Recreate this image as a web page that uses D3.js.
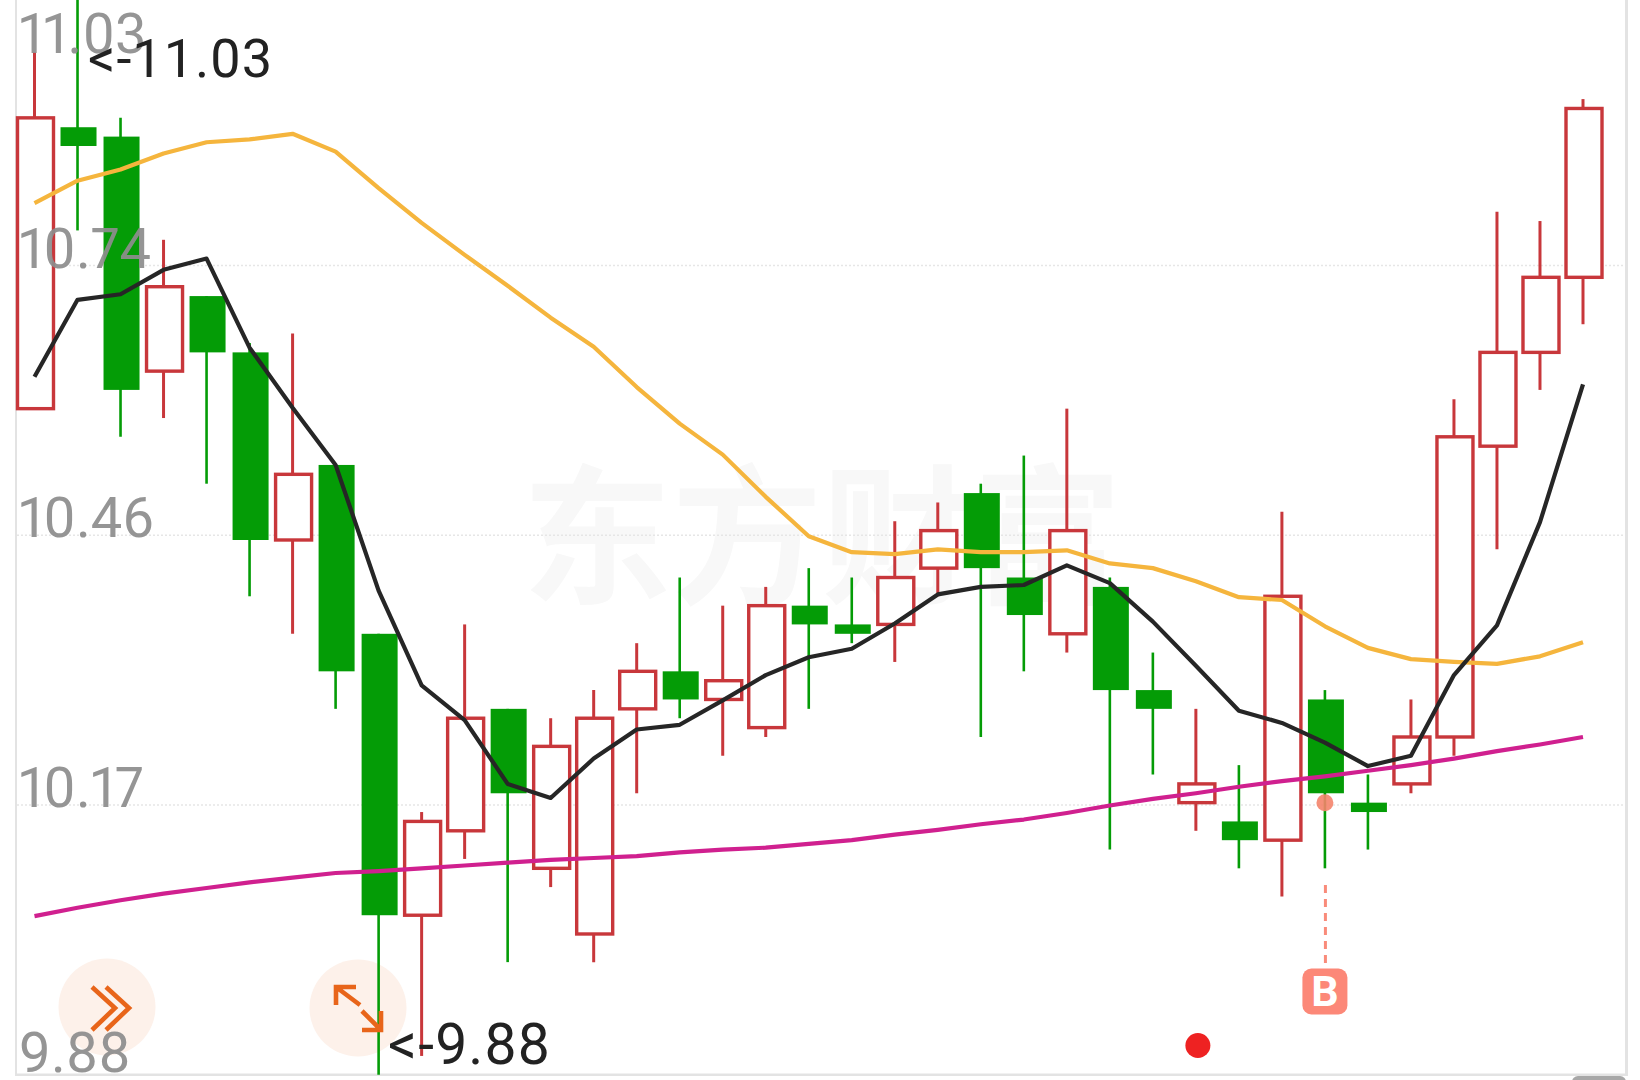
<!DOCTYPE html>
<html><head><meta charset="utf-8">
<script src="https://cdn.jsdelivr.net/npm/d3@7/dist/d3.min.js"></script>
<style>html,body{margin:0;padding:0;background:#fff;overflow:hidden}svg{display:block}</style>
</head><body><svg id="c" width="1640" height="1080"></svg>
<script>
const openP=[10.59,10.89,10.88,10.63,10.71,10.65,10.45,10.53,10.35,10.05,10.14,10.27,10.10,10.03,10.27,10.31,10.28,10.25,10.38,10.36,10.36,10.42,10.50,10.41,10.35,10.40,10.29,10.17,10.15,10.13,10.28,10.17,10.19,10.24,10.55,10.65,10.73];
const closeP=[10.90,10.87,10.61,10.72,10.65,10.45,10.52,10.31,10.05,10.15,10.26,10.18,10.23,10.26,10.31,10.28,10.30,10.38,10.36,10.35,10.41,10.46,10.42,10.37,10.46,10.29,10.27,10.19,10.13,10.39,10.18,10.16,10.24,10.56,10.65,10.73,10.91];
const highP=[10.97,11.03,10.90,10.77,10.71,10.66,10.67,10.53,10.35,10.16,10.36,10.27,10.26,10.29,10.34,10.41,10.38,10.40,10.42,10.41,10.47,10.49,10.51,10.54,10.59,10.41,10.33,10.27,10.21,10.48,10.29,10.20,10.28,10.60,10.80,10.79,10.92];
const lowP=[10.59,10.78,10.56,10.58,10.51,10.39,10.35,10.27,9.88,9.90,10.11,10.00,10.08,10.00,10.18,10.26,10.22,10.24,10.27,10.34,10.32,10.39,10.24,10.31,10.33,10.12,10.20,10.14,10.10,10.07,10.10,10.12,10.18,10.22,10.44,10.61,10.68];
const maBlack=[10.624,10.706,10.712,10.738,10.750,10.655,10.591,10.530,10.396,10.295,10.258,10.190,10.175,10.217,10.248,10.253,10.279,10.306,10.325,10.334,10.361,10.392,10.400,10.402,10.423,10.404,10.363,10.316,10.268,10.255,10.234,10.209,10.220,10.306,10.359,10.469,10.616];
const maOrange=[10.809,10.833,10.845,10.862,10.874,10.877,10.883,10.864,10.825,10.788,10.754,10.721,10.687,10.656,10.613,10.574,10.541,10.496,10.454,10.437,10.435,10.440,10.437,10.437,10.439,10.425,10.420,10.406,10.389,10.386,10.358,10.335,10.323,10.320,10.318,10.326,10.341];
const maMagenta=[10.049,10.058,10.066,10.073,10.079,10.085,10.090,10.095,10.097,10.100,10.103,10.106,10.109,10.111,10.113,10.117,10.120,10.122,10.126,10.130,10.136,10.141,10.147,10.152,10.159,10.167,10.174,10.180,10.187,10.193,10.198,10.204,10.210,10.217,10.225,10.232,10.240];
const tickValues=[11.03,10.7425,10.455,10.1675,9.88];
const tickLabels=["11.03","10.74","10.46","10.17","9.88"];
const maxLabel="<-11.03", minLabel="<-9.88", watermark="东方财富", buyLabel="B";
const buyIndex=30, redDotIndex=27;

const svg=d3.select("#c");
const x=d3.scaleLinear().domain([0,36]).range([34.5,1583]);
const y=d3.scaleLinear().domain([9.88,11.03]).range([1074.7,-4.1]);
const RED="#c8373b",GREEN="#049c06",FONT="Roboto, sans-serif";
const idx=d3.range(openP.length);

svg.append("rect").attr("width",1640).attr("height",1080).attr("fill","#fff");
svg.append("text").text(watermark).attr("x",822).attr("y",592).attr("text-anchor","middle")
  .attr("font-family","'Noto Sans CJK SC'").attr("font-weight",700).attr("font-size",150).attr("fill","#f8f8f8");
svg.append("g").selectAll("line").data(tickValues.slice(1,4)).join("line")
  .attr("x1",17).attr("x2",1625).attr("y1",d=>y(d)).attr("y2",d=>y(d))
  .attr("stroke","#e6e6e6").attr("stroke-width",1.5).attr("stroke-dasharray","2 2");
const frame=svg.append("g").attr("fill","#e3e3e3");
frame.append("rect").attr("x",15).attr("y",0).attr("width",2).attr("height",1076);
frame.append("rect").attr("x",1625).attr("y",0).attr("width",3).attr("height",1076);
frame.append("rect").attr("x",15).attr("y",1073.5).attr("width",1613).attr("height",2.5);
svg.append("rect").attr("x",1572).attr("y",1076).attr("width",54).attr("height",12).attr("rx",6).attr("fill","#a8a8a8");

svg.append("circle").attr("cx",107).attr("cy",1007).attr("r",48.5).attr("fill","#fdf1ea");
svg.append("circle").attr("cx",358).attr("cy",1008).attr("r",48.5).attr("fill","#fdf1ea");

const gc=svg.append("g");
const up=i=>closeP[i]>=openP[i];
gc.selectAll("line.h").data(idx).join("line").attr("class","h")
  .attr("x1",x).attr("x2",x).attr("y1",i=>y(highP[i])).attr("y2",i=>y(lowP[i]))
  .attr("stroke",i=>up(i)?RED:GREEN).attr("stroke-width",i=>up(i)?3:2.6);
gc.selectAll("rect.b").data(idx).join("rect").attr("class","b")
  .attr("x",i=>x(i)+1-18)
  .attr("width",36)
  .attr("y",i=>y(Math.max(openP[i],closeP[i])))
  .attr("height",i=>Math.abs(y(openP[i])-y(closeP[i])))
  .attr("fill",i=>up(i)?"#fff":GREEN)
  .attr("stroke",i=>up(i)?RED:"none").attr("stroke-width",3.4);

const line=arr=>d3.line().x((d,i)=>x(i)).y(d=>y(d))(arr);
[[maMagenta,"#d0208f"],[maOrange,"#f5b53d"],[maBlack,"#262626"]].forEach(([a,c])=>{
  svg.append("path").attr("d",line(a)).attr("fill","none").attr("stroke",c).attr("stroke-width",4.2).attr("stroke-linejoin","round");
});

svg.append("g").selectAll("text").data(tickLabels).join("text").text(d=>d)
  .attr("x",19).attr("y",(d,i)=>y(tickValues[i])+(i===0?57:i===4?-3:2))
  .attr("font-family",FONT).attr("font-size",56).style("font-variant-numeric","proportional-nums").attr("fill","#8d8d8d").attr("fill-opacity",.93);
svg.append("text").text(maxLabel).attr("x",88).attr("y",76.5).attr("font-family",FONT).attr("font-size",54).attr("letter-spacing",1).attr("fill","#222");
svg.append("text").text(minLabel).attr("x",388).attr("y",1064).attr("font-family",FONT).attr("font-size",57).attr("letter-spacing",1.2).attr("fill","#222");

const OR="#e8651a";
const icons=svg.append("g").attr("fill","none").attr("stroke",OR).attr("stroke-width",4.6);
[[92,115],[106,129]].forEach(([a,b])=>icons.append("path").attr("d",`M${a},987L${b},1008L${a},1030`));
icons.append("path").attr("d","M336,1005V987H356M336,987L360,1005");
icons.append("path").attr("d","M362,1030H381V1011M381,1030L362,1011");

const bx=x(buyIndex);
svg.append("circle").attr("cx",bx).attr("cy",y(10.17)).attr("r",8.5).attr("fill","#f4846c").attr("fill-opacity",.9);
svg.append("line").attr("x1",bx+.5).attr("x2",bx+.5).attr("y1",885).attr("y2",966).attr("stroke","#f98b7a").attr("stroke-width",3).attr("stroke-dasharray","8 6");
svg.append("rect").attr("x",bx-22.5).attr("y",968.5).attr("width",45).attr("height",46).attr("rx",9).attr("fill","#fc8878");
svg.append("text").text(buyLabel).attr("x",bx).attr("y",1006).attr("text-anchor","middle")
  .attr("font-family",FONT).attr("font-weight",700).attr("font-size",43).attr("fill","#fff");
svg.append("circle").attr("cx",x(redDotIndex)+2).attr("cy",1045.5).attr("r",12.5).attr("fill","#ee2222");
</script></body></html>
